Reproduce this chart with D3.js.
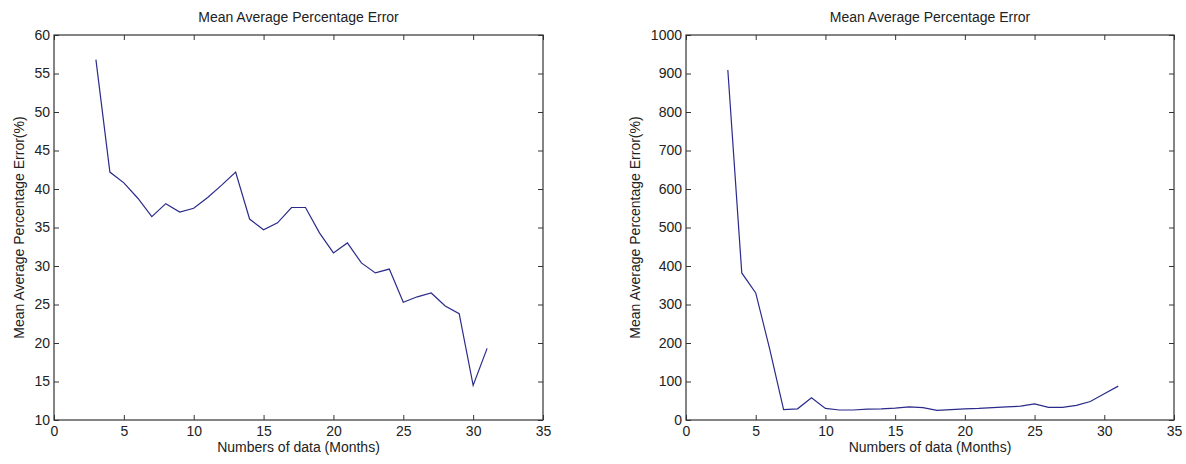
<!DOCTYPE html>
<html lang="en">
<head>
	<meta charset="UTF-8">
	<title>Mean Average Percentage Error</title>
	<style>
		html, body {width: 100%; height: 100%; padding: 0; margin: 0; background: #fff;}
		svg {font-family: "Liberation Sans", Arial, sans-serif;}
		.axis text {font-size: 14px; fill: #222;}
		.axis line {stroke: #333;}
		.axis path {stroke: none;}
		.frame {fill: none; stroke: #333; stroke-width: 1.2px;}
		.series {fill: none; stroke: #2b2b8c; stroke-width: 1.2px;}
		.title, .label {font-size: 14px; fill: #222;}
	</style>
	<script src="https://cdn.jsdelivr.net/npm/d3@7"></script>
</head>
<body>

<script>
// Number of months of data used (x axis), shared by both panels
var months = [3, 4, 5, 6, 7, 8, 9, 10, 11, 12, 13, 14, 15, 16, 17, 18, 19, 20, 21, 22, 23, 24, 25, 26, 27, 28, 29, 30, 31];

// Left panel values (%)
var mapeLeft = [56.8, 42.2, 40.8, 38.8, 36.4, 38.1, 37.0, 37.5, 38.9, 40.5, 42.2, 36.1, 34.7, 35.6, 37.6, 37.6, 34.3, 31.7, 33.0, 30.4, 29.1, 29.6, 25.3, 26.0, 26.5, 24.8, 23.8, 14.5, 19.3];

// Right panel values (%)
var mapeRight = [909, 382, 330, 185, 27, 29, 58, 30, 26, 26, 28, 29, 31, 34, 32, 25, 27, 29, 30, 32, 34, 36, 42, 33, 33, 38, 48, 68, 88];

var xTicks = [0, 5, 10, 15, 20, 25, 30, 35];
var yTicksLeft = [10, 15, 20, 25, 30, 35, 40, 45, 50, 55, 60];
var yTicksRight = [0, 100, 200, 300, 400, 500, 600, 700, 800, 900, 1000];

var titleText = 'Mean Average Percentage Error';
var xLabel = 'Numbers of data (Months)';
var yLabel = 'Mean Average Percentage Error(%)';
</script>

<script>
	var width = 1186;
	var height = 464;

	var svg = d3.select('body').append('svg')
		.attr('width', width)
		.attr('height', height);

	// one box per panel, in page pixels
	var panels = [
		{left: 54, right: 543, top: 35, bottom: 420, values: mapeLeft, yDomain: [10, 60], yTicks: yTicksLeft, yLabelX: -30},
		{left: 686, right: 1174, top: 35, bottom: 420, values: mapeRight, yDomain: [0, 1000], yTicks: yTicksRight, yLabelX: -46}
	];

	panels.forEach(function (p) {
		var w = p.right - p.left;
		var h = p.bottom - p.top;
		var g = svg.append('g').attr('transform', 'translate(' + p.left + ',' + p.top + ')');

		var x = d3.scaleLinear().domain([0, 35]).range([0, w]);
		var y = d3.scaleLinear().domain(p.yDomain).range([h, 0]);

		// inward ticks on all four sides, like a boxed plot
		g.append('g').attr('class', 'axis')
			.attr('transform', 'translate(0,' + h + ')')
			.call(d3.axisBottom(x).tickValues(xTicks).tickSize(-5).tickSizeOuter(0).tickPadding(6).tickFormat(d3.format('d')));
		g.append('g').attr('class', 'axis')
			.call(d3.axisTop(x).tickValues(xTicks).tickSize(-5).tickSizeOuter(0).tickFormat(''));
		g.append('g').attr('class', 'axis')
			.call(d3.axisLeft(y).tickValues(p.yTicks).tickSize(-5).tickSizeOuter(0).tickPadding(4).tickFormat(d3.format('d')));
		g.append('g').attr('class', 'axis')
			.attr('transform', 'translate(' + w + ',0)')
			.call(d3.axisRight(y).tickValues(p.yTicks).tickSize(-5).tickSizeOuter(0).tickFormat(''));

		g.append('rect').attr('class', 'frame')
			.attr('width', w)
			.attr('height', h);

		var line = d3.line()
			.x(function (d, i) { return x(months[i]); })
			.y(function (d) { return y(d); });

		g.append('path').attr('class', 'series')
			.attr('d', line(p.values));

		g.append('text').attr('class', 'title')
			.attr('x', w / 2)
			.attr('y', -13)
			.attr('text-anchor', 'middle')
			.text(titleText);

		g.append('text').attr('class', 'label')
			.attr('x', w / 2)
			.attr('y', h + 31.5)
			.attr('text-anchor', 'middle')
			.text(xLabel);

		g.append('text').attr('class', 'label')
			.attr('transform', 'translate(' + p.yLabelX + ',' + (h / 2) + ') rotate(-90)')
			.attr('text-anchor', 'middle')
			.text(yLabel);
	});
</script>

</body>
</html>
